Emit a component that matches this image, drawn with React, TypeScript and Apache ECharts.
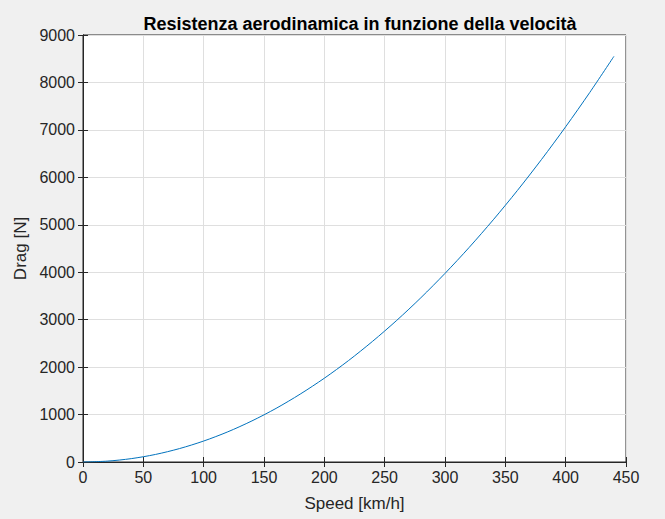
import React, { useEffect, useRef } from "react";
import * as echarts from "echarts";

// speed [km/h] and drag [N]
const speeds = [0, 20, 40, 60, 80, 100, 120, 140, 160, 180, 200, 220, 240, 260, 280, 300, 320, 340, 360, 380, 400, 420, 440];
const drags = [0, 18, 71, 159, 283, 442, 636, 866, 1130, 1431, 1766, 2137, 2544, 2985, 3462, 3975, 4522, 5105, 5723, 6377, 7066, 7790, 8550];

const titleText = "Resistenza aerodinamica in funzione della velocità";
const xName = "Speed [km/h]";
const yName = "Drag [N]";

const FONT = "'Liberation Sans', Arial, Helvetica, sans-serif";
const INK = "#262626";

const App = () => {
  const chartRef = useRef<HTMLDivElement>(null);

  useEffect(() => {
    if (!chartRef.current) return;
    const chart = echarts.init(chartRef.current, undefined, { renderer: "svg" });

    const tick = { show: true, inside: true, length: 5, lineStyle: { color: INK, width: 1 } };

    const option = {
      animation: false,
      backgroundColor: "#f0f0f0",
      textStyle: { fontFamily: FONT },
      title: {
        text: titleText,
        left: 355,
        textAlign: "center",
        top: 10,
        textStyle: { fontFamily: FONT, fontSize: 18, fontWeight: "bold", color: "#000" },
      },
      grid: {
        left: 83,
        right: 39,
        top: 35,
        bottom: 57,
        show: true,
        backgroundColor: "#ffffff",
        borderColor: INK,
        borderWidth: 1,
      },
      xAxis: [
        {
          type: "value",
          min: 0,
          max: 450,
          interval: 50,
          name: xName,
          nameLocation: "middle",
          nameGap: 33,
          nameTextStyle: { fontFamily: FONT, fontSize: 17, color: INK },
          axisLine: { show: true, lineStyle: { color: INK } },
          axisTick: tick,
          axisLabel: { fontFamily: FONT, fontSize: 16, color: INK, margin: 7 },
          splitLine: { show: true, lineStyle: { color: "#dfdfdf", width: 1 } },
        },
        {
          type: "value",
          position: "top",
          min: 0,
          max: 450,
          interval: 50,
          axisLine: { show: true, lineStyle: { color: INK } },
          axisTick: tick,
          axisLabel: { show: false },
          splitLine: { show: false },
        },
      ],
      yAxis: [
        {
          type: "value",
          min: 0,
          max: 9000,
          interval: 1000,
          name: yName,
          nameLocation: "middle",
          nameGap: 53,
          nameTextStyle: { fontFamily: FONT, fontSize: 17, color: INK },
          axisLine: { show: true, lineStyle: { color: INK } },
          axisTick: tick,
          axisLabel: {
            fontFamily: FONT,
            fontSize: 16,
            color: INK,
            margin: 8,
            formatter: (v: number) => String(v),
          },
          splitLine: { show: true, lineStyle: { color: "#dfdfdf", width: 1 } },
        },
        {
          type: "value",
          position: "right",
          min: 0,
          max: 9000,
          interval: 1000,
          axisLine: { show: true, lineStyle: { color: INK } },
          axisTick: tick,
          axisLabel: { show: false },
          splitLine: { show: false },
        },
      ],
      series: [
        {
          type: "line",
          data: speeds.map((v, i) => [v, drags[i]]),
          showSymbol: false,
          smooth: 0.3,
          lineStyle: { color: "#0072bd", width: 1 },
          itemStyle: { color: "#0072bd" },
        },
      ],
    };

    chart.setOption(option);
    return () => {
      chart.dispose();
    };
  }, []);

  return (
    <div
      ref={chartRef}
      style={{ position: "absolute", left: 0, top: 0, width: "665px", height: "519px" }}
    ></div>
  );
};

export default App;
